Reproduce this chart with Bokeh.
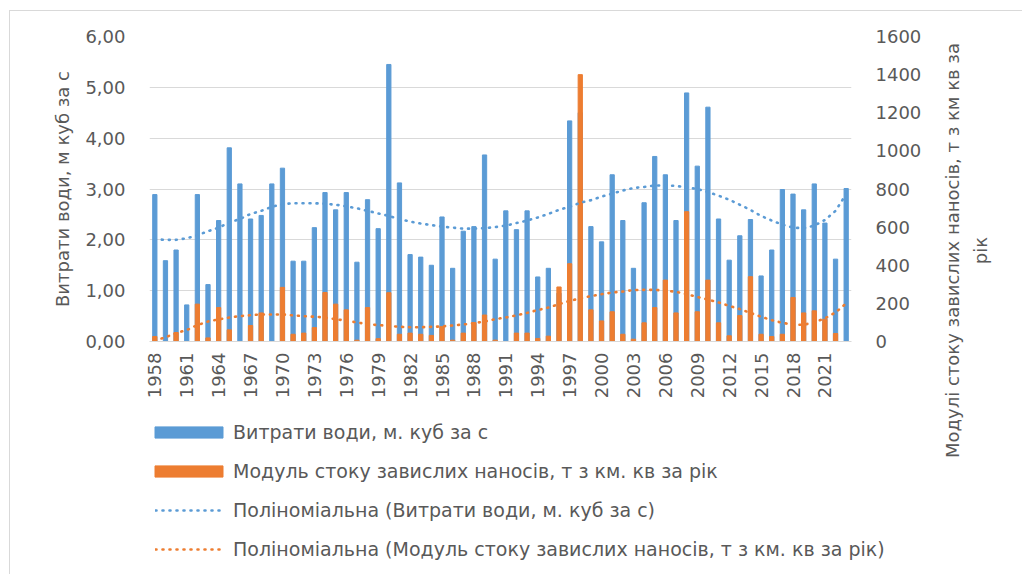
from math import pi
from bokeh.plotting import figure
from bokeh.layouts import row, column
from bokeh.models import (Range1d, LinearAxis, FixedTicker, Legend, LegendItem,
                          ColumnDataSource)
from bokeh.embed import file_html
from bokeh.resources import INLINE

# ---------------- data ----------------
years = list(range(1958, 2024))

water = [2.89, 1.59, 1.80, 0.72, 2.89, 1.12, 2.38, 3.81, 3.10, 2.41,
         2.48, 3.10, 3.41, 1.58, 1.58, 2.24, 2.93, 2.59, 2.93, 1.56,
         2.79, 2.22, 5.45, 3.12, 1.71, 1.66, 1.50, 2.45, 1.44, 2.17,
         2.26, 3.67, 1.62, 2.57, 2.20, 2.57, 1.27, 1.44, 0.95, 4.34,
         4.50, 2.26, 1.96, 3.28, 2.38, 1.44, 2.73, 3.64, 3.28, 2.38,
         4.89, 3.45, 4.61, 2.41, 1.60, 2.08, 2.40, 1.29, 1.80, 2.99,
         2.90, 2.59, 3.10, 2.33, 1.62, 3.01]

sediment = [26, 0, 47, 0, 196, 19, 178, 61, 0, 84,
            150, 0, 284, 38, 44, 73, 257, 196, 166, 7,
            178, 15, 256, 38, 44, 38, 32, 78, 7, 44,
            99, 139, 7, 0, 44, 44, 16, 28, 286, 408,
            1400, 166, 108, 156, 38, 12, 98, 178, 322, 150,
            681, 156, 322, 98, 30, 136, 340, 38, 26, 38,
            231, 150, 161, 117, 42, 0]

water_trend = [2.01, 2.00, 2.00, 2.03, 2.09, 2.17, 2.24, 2.34, 2.41, 2.51,
               2.57, 2.65, 2.70, 2.72, 2.72, 2.72, 2.71, 2.69, 2.66, 2.62,
               2.57, 2.52, 2.47, 2.41, 2.36, 2.32, 2.29, 2.26, 2.24, 2.22,
               2.22, 2.23, 2.25, 2.28, 2.33, 2.38, 2.44, 2.51, 2.59, 2.65,
               2.73, 2.78, 2.85, 2.91, 2.97, 3.02, 3.04, 3.07, 3.07, 3.06,
               3.03, 3.00, 2.94, 2.87, 2.79, 2.69, 2.59, 2.47, 2.38, 2.30,
               2.24, 2.23, 2.28, 2.39, 2.57, 2.90]

sediment_trend = [5, 22, 44, 60, 86, 105, 116, 126, 133, 138,
                  142, 142, 142, 137, 133, 130, 126, 117, 109, 100,
                  91, 86, 82, 77, 75, 75, 77, 79, 84, 89,
                  96, 105, 117, 126, 137, 150, 165, 178, 196, 213,
                  226, 238, 248, 257, 262, 270, 271, 271, 266, 261,
                  248, 234, 220, 205, 187, 170, 150, 130, 112, 98,
                  88, 88, 100, 122, 152, 200]

year_ticks = list(range(1958, 2022, 3))
left_ticks = [0, 1, 2, 3, 4, 5, 6]
left_tick_labels = ["0,00", "1,00", "2,00", "3,00", "4,00", "5,00", "6,00"]
right_ticks = [0, 200, 400, 600, 800, 1000, 1200, 1400, 1600]

name_water = "Витрати води, м. куб за с"
name_sed = "Модуль стоку завислих наносів, т з км. кв за рік"
name_water_tr = "Поліноміальна (Витрати води, м. куб за с)"
name_sed_tr = "Поліноміальна (Модуль стоку завислих наносів, т з км. кв за рік)"
left_title = "Витрати води, м куб за с"
right_title_lines = ["Модулі стоку завислих наносів, т з км кв за", "рік"]

# ---------------- styling ----------------
BLUE = "#5B9BD5"
ORANGE = "#ED7D31"
GRID = "#D9D9D9"
TXT = "#595959"
FONT = "DejaVu Sans"

MAIN_W, MAIN_H = 935, 405
LEG_H = 169
TITLE_W = 87
TOTAL_H = MAIN_H + LEG_H

src = ColumnDataSource(dict(year=years, water=water, sediment=sediment,
                            wt=water_trend, st=sediment_trend))

# ---------------- main chart ----------------
p = figure(width=MAIN_W, height=MAIN_H, output_backend="svg", toolbar_location=None,
           x_range=Range1d(1957.5, 2023.5), y_range=Range1d(0, 6),
           min_border_left=149, min_border_right=MAIN_W - 851,
           min_border_top=36, min_border_bottom=MAIN_H - 341,
           background_fill_color="white", border_fill_alpha=0)
p.frame_align = False
p.outline_line_color = None
p.extra_y_ranges = {"right": Range1d(0, 1600)}

p.vbar(x="year", top="water", width=0.4, color=BLUE, source=src)
p.vbar(x="year", top="sediment", width=0.4, color=ORANGE, source=src,
       y_range_name="right")
p.line(x="year", y="wt", source=src, color=BLUE, line_width=2.6,
       line_dash="1 6", line_cap="round")
p.line(x="year", y="st", source=src, color=ORANGE, line_width=2.6,
       line_dash="1 6", line_cap="round", y_range_name="right")

p.xgrid.visible = False
p.ygrid.ticker = FixedTicker(ticks=left_ticks)
p.ygrid.grid_line_color = GRID
p.ygrid.grid_line_width = 1.2

def style_axis(ax, standoff):
    ax.major_tick_line_color = None
    ax.minor_tick_line_color = None
    ax.major_tick_out = 0
    ax.major_tick_in = 0
    ax.minor_tick_out = 0
    ax.minor_tick_in = 0
    ax.major_label_standoff = standoff
    ax.major_label_text_font = FONT
    ax.major_label_text_font_size = "18px"
    ax.major_label_text_color = TXT

xa = p.xaxis[0]
xa.ticker = FixedTicker(ticks=year_ticks)
xa.major_label_orientation = pi / 2
xa.axis_line_color = GRID
xa.axis_line_width = 1.2
style_axis(xa, 11)

ya = p.yaxis[0]
ya.ticker = FixedTicker(ticks=left_ticks)
ya.major_label_overrides = {t: l for t, l in zip(left_ticks, left_tick_labels)}
ya.axis_line_color = None
style_axis(ya, 24)
ya.axis_label = left_title
ya.axis_label_text_font = FONT
ya.axis_label_text_font_size = "18px"
ya.axis_label_text_font_style = "normal"
ya.axis_label_text_color = TXT
ya.axis_label_standoff = 9

ra = LinearAxis(y_range_name="right", ticker=FixedTicker(ticks=right_ticks))
ra.axis_line_color = None
style_axis(ra, 24)
p.add_layout(ra, "right")

# ---------------- legend strip ----------------
pl = figure(width=MAIN_W, height=LEG_H, output_backend="svg", toolbar_location=None,
            x_range=Range1d(0, MAIN_W), y_range=Range1d(0, LEG_H),
            x_axis_type=None, y_axis_type=None, min_border=0,
            background_fill_alpha=0, border_fill_alpha=0)
pl.frame_align = False
pl.outline_line_color = None
pl.grid.visible = False
# legend proxies (same data, lying outside this strip's ranges, so not drawn)
l_w = pl.vbar(x="year", top="water", width=0.4, color=BLUE, source=src)
l_s = pl.vbar(x="year", top="sediment", width=0.4, color=ORANGE, source=src)
l_wt = pl.line(x="year", y="wt", color=BLUE, line_width=2.6, line_dash="1 6",
               line_cap="round", source=src)
l_st = pl.line(x="year", y="st", color=ORANGE, line_width=2.6, line_dash="1 6",
               line_cap="round", source=src)

def style_legend(lg):
    lg.border_line_color = None
    lg.background_fill_alpha = 0
    lg.padding = 0
    lg.margin = 0
    lg.spacing = 17
    lg.label_height = 22
    lg.glyph_height = 14
    lg.label_text_font = FONT
    lg.label_text_font_size = "19px"
    lg.label_text_color = TXT

leg_bars = Legend(items=[LegendItem(label=name_water, renderers=[l_w]),
                         LegendItem(label=name_sed, renderers=[l_s])],
                  location=(146, 92))
style_legend(leg_bars)
leg_bars.glyph_width = 85
leg_bars.label_standoff = 2

leg_lines = Legend(items=[LegendItem(label=name_water_tr, renderers=[l_wt]),
                          LegendItem(label=name_sed_tr, renderers=[l_st])],
                   location=(155, 14))
style_legend(leg_lines)
leg_lines.glyph_width = 66
leg_lines.label_standoff = 12

pl.add_layout(leg_bars, "center")
pl.add_layout(leg_lines, "center")

# ---------------- right axis title strip ----------------
pt = figure(width=TITLE_W, height=TOTAL_H, output_backend="svg", toolbar_location=None,
            x_range=Range1d(0, TITLE_W), y_range=Range1d(0, TOTAL_H),
            x_axis_type=None, y_axis_type=None, min_border=0,
            background_fill_alpha=0, border_fill_alpha=0)
pt.frame_align = False
pt.outline_line_color = None
pt.grid.visible = False
pt.text(x=[952 - MAIN_W, 980 - MAIN_W], y=[TOTAL_H - 250, TOTAL_H - 250],
        text=right_title_lines, angle=pi / 2, text_align="center",
        text_baseline="middle", text_font={"value": FONT},
        text_font_size="18px", text_color=TXT)

layout = row(column(p, pl, spacing=0), pt, spacing=0)
layout.styles = {
    "background-color": "white",
    "background-image": "linear-gradient(#D9D9D9, #D9D9D9), linear-gradient(#D9D9D9, #D9D9D9)",
    "background-size": "1px 100%, 100% 1px",
    "background-position": "9px 10px, 9px 10px",
    "background-repeat": "no-repeat",
}
open("out.html", "w").write(file_html(layout, INLINE))
